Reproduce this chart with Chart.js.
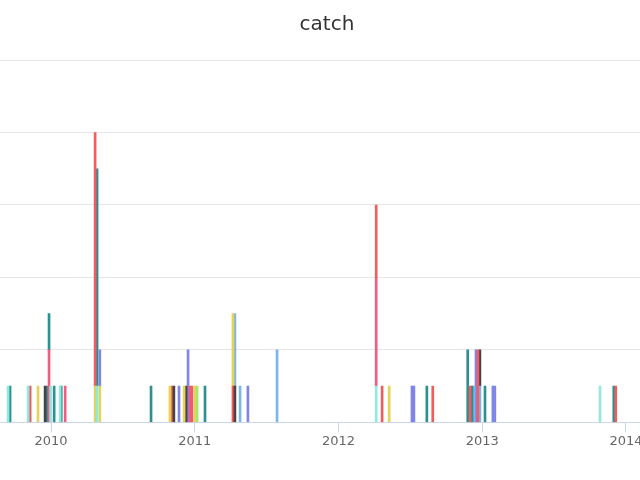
<!DOCTYPE html>
<html>
<head>
<meta charset="utf-8">
<script src="https://cdn.jsdelivr.net/npm/chart.js@4/dist/chart.umd.min.js"></script>
<style>
  html, body { margin: 0; padding: 0; overflow: hidden; background: #fff; }
  #wrap { position: absolute; left: 0; top: 0; width: 654px; height: 480px; }
</style>
</head>
<body>
<div id="wrap"><canvas id="chart"></canvas></div>
<script>
// catch counts per date, one array per series (bottom of the stack first)
const cyanSeries = [['2009-09-14', 1], ['2009-11-04', 1], ['2009-12-31', 1], ['2010-01-24', 1], ['2010-04-28', 1], ['2012-04-06', 1], ['2013-10-27', 1]];
const yellowSeries = [['2009-11-29', 1], ['2010-04-23', 1], ['2010-05-05', 1], ['2010-10-30', 1], ['2010-12-05', 1], ['2011-01-02', 1], ['2012-05-09', 1]];
const blackSeries = [['2009-12-17', 1], ['2010-11-09', 1], ['2010-12-10', 1], ['2011-04-13', 1]];
const redSeries = [['2009-11-09', 1], ['2010-04-23', 7], ['2010-11-04', 1], ['2010-12-25', 1], ['2011-04-08', 1], ['2012-04-21', 1], ['2012-08-28', 1], ['2012-12-01', 1], ['2012-12-21', 2], ['2013-12-06', 1]];
const pinkSeries = [['2009-12-27', 2], ['2010-02-06', 1], ['2010-12-20', 1], ['2012-04-06', 3]];
const tealSeries = [['2009-09-19', 1], ['2009-12-22', 1], ['2009-12-27', 1], ['2010-01-09', 1], ['2010-01-27', 1], ['2010-04-28', 6], ['2010-09-12', 1], ['2011-01-27', 1], ['2012-08-13', 1], ['2012-11-25', 2], ['2012-12-06', 1], ['2013-01-08', 1], ['2013-12-01', 1]];
const yellowSeries2 = [['2011-04-08', 2]];
const blueSeries = [['2011-04-13', 2], ['2011-04-26', 1], ['2011-07-29', 2], ['2012-12-11', 1], ['2012-12-26', 1]];
const blackSeries2 = [['2012-12-26', 1]];
const purpleSeries = [['2010-05-05', 1], ['2010-11-22', 1], ['2010-12-15', 2], ['2011-05-16', 1], ['2012-07-06', 1], ['2012-07-11', 1], ['2012-12-16', 2], ['2013-01-28', 1], ['2013-02-02', 1]];
const redSeries2 = [['2012-04-06', 2]];
const greenSeries = [['2011-01-07', 1]];

const yearTicks = [2010, 2011, 2012, 2013, 2014];

// date string -> fractional year, so a plain linear axis can carry the dates
function toYear(s) {
    const d = Date.parse(s + 'T00:00:00Z');
    const y = new Date(d).getUTCFullYear();
    const a = Date.UTC(y, 0, 1), b = Date.UTC(y + 1, 0, 1);
    return y + (d - a) / (b - a);
}

function makeSet(points, color) {
    return {
        data: points.map(p => ({ x: toYear(p[0]), y: p[1] })),
        backgroundColor: color,
        borderWidth: 0,
        barThickness: 2
    };
}

const datasets = [
    makeSet(cyanSeries, '#91e8e1'),
    makeSet(yellowSeries, '#e4d354'),
    makeSet(blackSeries, '#434348'),
    makeSet(redSeries, '#f45b5b'),
    makeSet(pinkSeries, '#f15c80'),
    makeSet(tealSeries, '#2b908f'),
    makeSet(yellowSeries2, '#e4d354'),
    makeSet(blueSeries, '#7cb5ec'),
    makeSet(blackSeries2, '#434348'),
    makeSet(purpleSeries, '#8085e9'),
    makeSet(redSeries2, '#f45b5b'),
    makeSet(greenSeries, '#90ed7d')
];

new Chart(document.getElementById('chart'), {
    type: 'bar',
    data: { datasets: datasets },
    options: {
        responsive: true,
        maintainAspectRatio: false,
        animation: false,
        layout: { padding: { left: 0, right: 0, top: 0, bottom: 30 } },
        plugins: {
            legend: { display: false },
            tooltip: { enabled: false },
            title: {
                display: true,
                text: 'catch',
                color: '#333333',
                font: { family: 'DejaVu Sans', size: 20, weight: 'normal' },
                padding: { top: 13, bottom: 23 }
            }
        },
        scales: {
            x: {
                type: 'linear',
                stacked: true,
                offset: false,
                min: 2009.6452,
                max: 2014.1948,
                afterBuildTicks: scale => { scale.ticks = yearTicks.map(v => ({ value: v })); },
                ticks: {
                    color: '#666666',
                    font: { family: 'DejaVu Sans', size: 13 },
                    padding: 1,
                    maxRotation: 0,
                    autoSkip: false,
                    callback: v => String(v)
                },
                grid: {
                    display: true,
                    offset: false,
                    drawOnChartArea: false,
                    drawTicks: true,
                    tickLength: 10,
                    color: '#ccd6eb'
                },
                border: { display: true, color: '#ccd6eb' }
            },
            y: {
                stacked: true,
                min: 0,
                max: 10,
                ticks: { display: false, stepSize: 2 },
                grid: { color: '#e6e6e6', drawTicks: false },
                border: { display: false }
            }
        }
    }
});
</script>
</body>
</html>
